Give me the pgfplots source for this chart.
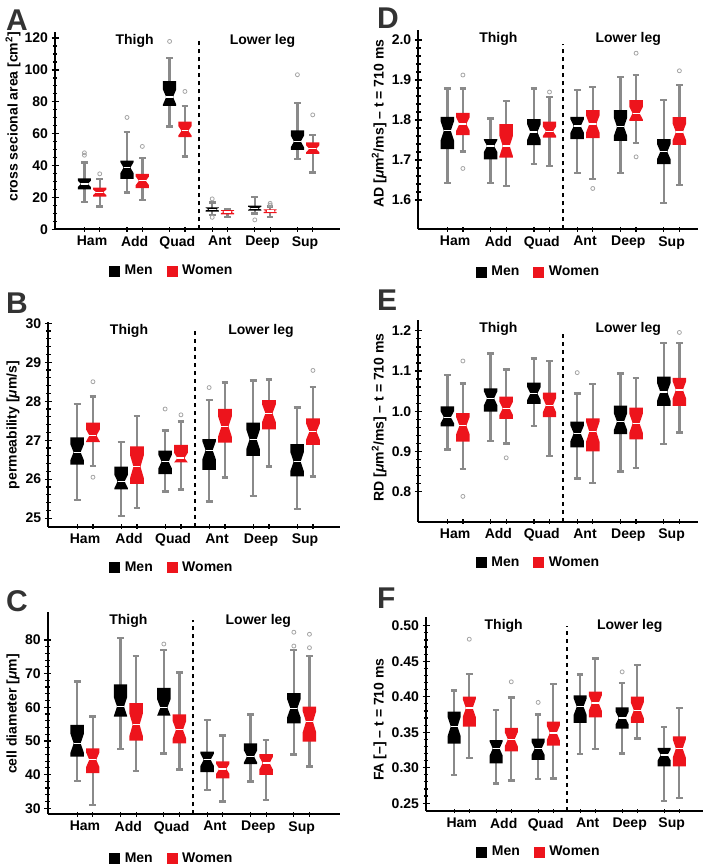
\documentclass[border=0pt]{standalone}
\usepackage{fontspec}
\setmainfont{Liberation Sans}
\usepackage{pgfplots}
\usepackage{pgfplotstable}
\pgfplotsset{compat=1.18}

\definecolor{wred}{RGB}{237,20,28}
\definecolor{whisk}{RGB}{138,138,138}
\definecolor{outc}{RGB}{165,165,165}

% geometry of one notched box (in category units)
\newcommand\bhw{0.155}   % box half width
\newcommand\nhw{0.08}    % half width at the notch waist
\newcommand\chw{0.078}   % whisker cap half width

% one notched box with whiskers, read from row #2 of table #1
\newcommand\onebox[4]{%
  \pgfplotstablegetelem{#2}{c}\of{#1}\pgfmathsetmacro\bx{\pgfplotsretval+#4}%
  \pgfplotstablegetelem{#2}{lo}\of{#1}\let\blo\pgfplotsretval
  \pgfplotstablegetelem{#2}{q1}\of{#1}\let\bqa\pgfplotsretval
  \pgfplotstablegetelem{#2}{med}\of{#1}\let\bmed\pgfplotsretval
  \pgfplotstablegetelem{#2}{q3}\of{#1}\let\bqc\pgfplotsretval
  \pgfplotstablegetelem{#2}{hi}\of{#1}\let\bhi\pgfplotsretval
  \pgfmathsetmacro\bd{0.3*(\bqc-\bqa)}%
  \pgfmathsetmacro\bnl{max(\bqa,\bmed-\bd)}%
  \pgfmathsetmacro\bnh{min(\bqc,\bmed+\bd)}%
  \pgfmathsetmacro\xl{\bx-\bhw}\pgfmathsetmacro\xr{\bx+\bhw}%
  \pgfmathsetmacro\xil{\bx-\nhw}\pgfmathsetmacro\xir{\bx+\nhw}%
  \pgfmathsetmacro\capl{\bx-\chw}\pgfmathsetmacro\capr{\bx+\chw}%
  \addplot[whisker] coordinates {(\bx,\blo) (\bx,\bhi)};
  \addplot[whisker] coordinates {(\capl,\blo) (\capr,\blo)};
  \addplot[whisker] coordinates {(\capl,\bhi) (\capr,\bhi)};
  \addplot[fill=#3, draw=none, forget plot] coordinates {(\xl,\bqa) (\xr,\bqa) (\xr,\bnl) (\xir,\bmed) (\xr,\bnh) (\xr,\bqc) (\xl,\bqc) (\xl,\bnh) (\xil,\bmed) (\xl,\bnl)} --cycle;
  \addplot[white, line width=1.3pt, forget plot] coordinates {(\xil,\bmed) (\xir,\bmed)};
}
\newcommand\boxes[3]{\pgfplotsinvokeforeach{0,...,5}{\onebox{#1}{##1}{#2}{#3}}}

\pgfplotsset{
  panel/.style={
    scale only axis, clip=false,
    axis x line*=bottom, axis y line*=left,
    axis line style={line width=1.8pt},
    xtick={0,...,5}, xticklabels={Ham,Add,Quad,Ant,Deep,Sup},
    minor xtick={-0.18,0.18,0.82,1.18,1.82,2.18,2.82,3.18,3.82,4.18,4.82,5.18},
    major x tick style={draw=none},
    minor y tick num=4,
    tick align=center,
    major tick length=7pt, minor tick length=4.5pt,
    tick style={black, line width=1.2pt},
    tick label style={font=\fontsize{14}{17}\selectfont\bfseries},
    /pgf/number format/assume math mode=true,
    ylabel style={font=\fontsize{14}{17}\selectfont\bfseries, anchor=center},
    legend style={draw=none, fill=none, font=\fontsize{14}{17}\selectfont\bfseries,
      legend columns=2, anchor=center,
      /tikz/every odd column/.append style={column sep=3pt},
      /tikz/every even column/.append style={column sep=12pt}},
    legend cell align=left,
  },
  whisker/.style={whisk, line width=2.4pt, forget plot},
  outl/.style={only marks, mark=o, mark size=2pt, outc, line width=0.8pt, forget plot},
  sep/.style={black, line width=2pt, dash pattern=on 4pt off 4pt, forget plot},
}
\newcommand\legsq{%
  \addlegendimage{legend image code/.code={\fill[black] (0pt,-5pt) rectangle (10pt,5pt);}}
  \addlegendentry{Men}
  \addlegendimage{legend image code/.code={\fill[wred] (0pt,-5pt) rectangle (10pt,5pt);}}
  \addlegendentry{Women}
}
\newcommand\regions[1]{%
  \node[font=\fontsize{14}{17}\selectfont\bfseries, anchor=north, inner sep=2pt] at (axis cs:1,#1) {Thigh};
  \node[font=\fontsize{14}{17}\selectfont\bfseries, anchor=north, inner sep=2pt] at (axis cs:4,#1) {Lower leg};
}

% columns: category, lower whisker, Q1, median, Q3, upper whisker
\pgfplotstableread{
c lo q1 med q3 hi
0 17 25 28.5 32 42
1 23 31.6 38.7 43.1 61
2 64.5 77.5 83 93 107.4
3 9 11.1 12.6 13.8 16.8
4 10 11.7 13.2 14.9 20.1
5 44 49.8 55.1 62 79.2
}\csaMen
\pgfplotstableread{
c lo q1 med q3 hi
0 14.2 20.5 23.2 26.2 31.6
1 18.4 25.8 30.4 34.8 44.6
2 45.7 57.8 61.8 67.6 77.5
3 7.8 9.4 10.9 12.1 12.8
4 7.9 10.2 11.4 12.5 14.2
5 35.6 47.3 50.5 54.5 59.3
}\csaWomen
\pgfplotstableread{
c lo q1 med q3 hi
0 25.47 26.37 26.69 27.07 27.93
1 25.06 25.74 25.94 26.32 26.95
2 25.68 26.13 26.45 26.73 27.25
3 25.43 26.24 26.74 27.03 28.03
4 25.57 26.60 27.02 27.45 28.53
5 25.23 26.07 26.45 26.90 27.84
}\permMen
\pgfplotstableread{
c lo q1 med q3 hi
0 26.33 26.95 27.12 27.45 28.12
1 25.26 25.88 26.32 26.84 27.62
2 25.73 26.43 26.54 26.88 27.48
3 26.04 26.94 27.35 27.80 28.48
4 26.32 27.28 27.69 28.03 28.56
5 26.07 26.88 27.22 27.56 28.36
}\permWomen
\pgfplotstableread{
c lo q1 med q3 hi
0 38.1 45.35 49.3 54.75 67.6
1 47.6 57.2 60.2 66.8 80.5
2 46.3 57.5 59.9 65.8 77
3 35.4 40.7 44.4 46.8 56.2
4 37.9 43.1 45.4 49.3 57.9
5 46 55.2 59.7 64.2 77
}\diamMen
\pgfplotstableread{
c lo q1 med q3 hi
0 31 40.4 44.4 47.8 57.2
1 41 50.1 54.8 61.2 75.2
2 41.5 49.3 53.3 57.9 70.3
3 32 38.9 41.7 43.9 51.6
4 32.5 39.9 43.4 46.1 50.3
5 42.4 49.8 55.7 60.2 75.2
}\diamWomen
\pgfplotstableread{
c lo q1 med q3 hi
0 1.642 1.7275 1.773 1.808 1.879
1 1.642 1.702 1.735 1.752 1.804
2 1.690 1.7375 1.770 1.802 1.879
3 1.668 1.752 1.785 1.808 1.875
4 1.667 1.748 1.783 1.825 1.908
5 1.592 1.690 1.721 1.752 1.850
}\adMen
\pgfplotstableread{
c lo q1 med q3 hi
0 1.721 1.7625 1.790 1.818 1.879
1 1.635 1.706 1.735 1.790 1.8475
2 1.685 1.756 1.772 1.796 1.858
3 1.652 1.755 1.790 1.825 1.882
4 1.742 1.798 1.817 1.850 1.9125
5 1.638 1.738 1.770 1.807 1.8875
}\adWomen
\pgfplotstableread{
c lo q1 med q3 hi
0 0.905 0.962 0.985 1.012 1.090
1 0.926 0.999 1.032 1.057 1.144
2 0.963 1.018 1.044 1.071 1.131
3 0.833 0.910 0.945 0.974 1.044
4 0.850 0.943 0.974 1.014 1.094
5 0.918 1.013 1.048 1.086 1.170
}\rdMen
\pgfplotstableread{
c lo q1 med q3 hi
0 0.856 0.924 0.964 0.995 1.069
1 0.920 0.981 1.007 1.036 1.104
2 0.888 0.985 1.015 1.046 1.125
3 0.821 0.900 0.949 0.982 1.067
4 0.858 0.930 0.970 1.009 1.082
5 0.947 1.013 1.053 1.083 1.170
}\rdWomen
\pgfplotstableread{
c lo q1 med q3 hi
0 0.290 0.334 0.358 0.379 0.4085
1 0.278 0.306 0.327 0.339 0.381
2 0.284 0.311 0.327 0.341 0.375
3 0.319 0.363 0.386 0.402 0.4315
4 0.320 0.355 0.370 0.385 0.419
5 0.253 0.302 0.318 0.328 0.357
}\faMen
\pgfplotstableread{
c lo q1 med q3 hi
0 0.314 0.358 0.384 0.400 0.432
1 0.282 0.323 0.340 0.356 0.399
2 0.285 0.331 0.349 0.365 0.418
3 0.326 0.371 0.391 0.407 0.454
4 0.341 0.363 0.381 0.400 0.445
5 0.257 0.302 0.327 0.344 0.384
}\faWomen

\begin{document}
\begin{tikzpicture}
\useasboundingbox (0pt,0pt) rectangle (709pt,864pt);

\tikzset{letter/.style={anchor=north west, inner sep=0pt, text=black!80,
  font=\fontsize{30}{30}\selectfont\bfseries}}
\node[letter] at (6pt,854pt) {A};
\node[letter] at (6pt,571pt) {B};
\node[letter] at (6pt,274pt) {C};
\node[letter] at (377pt,856pt) {D};
\node[letter] at (377pt,574pt) {E};
\node[letter] at (377pt,276pt) {F};

% ---------------- A: cross sectional area
\begin{axis}[panel, at={(55pt,634.7pt)}, anchor=south west,
  width=285pt, height=197.6pt,
  xmin=-0.87, xmax=5.82, ymin=0, ymax=124,
  ytick={0,20,...,120}, minor y tick num=3,
  ylabel={cross secional area [cm\textsuperscript{2}]},
  ylabel style={at={(axis description cs:-0.147,0.57)}},
  legend style={at={(0.41,-0.21)}}]
\legsq
\addplot[sep] coordinates {(2.5,0) (2.5,118)};
\boxes{\csaMen}{black}{-0.18}
\boxes{\csaWomen}{wred}{0.18}
\addplot[outl] table[x expr=\thisrow{c}-0.18, y=v] {
c v
0 46.5
0 48
1 70.2
2 117.9
3 19.1
3 7.5
4 5.9
5 97
};
\addplot[outl] table[x expr=\thisrow{c}+0.18, y=v] {
c v
0 34.8
1 52
2 86.5
4 15.2
4 16.3
5 71.8
};
\regions{124}
\end{axis}

% ---------------- B: permeability
\begin{axis}[panel, at={(48.3pt,337.3pt)}, anchor=south west,
  width=291.7pt, height=205pt,
  xmin=-0.835, xmax=5.795, ymin=24.78, ymax=30.04,
  ytick={25,...,30},
  ylabel={permeability [{\itshape μ}m/s]},
  ylabel style={at={(axis description cs:-0.121,0.496)}},
  legend style={at={(0.424,-0.197)}}]
\legsq
\addplot[sep] coordinates {(2.5,24.78) (2.5,29.8)};
\boxes{\permMen}{black}{-0.18}
\boxes{\permWomen}{wred}{0.18}
\addplot[outl] table[x expr=\thisrow{c}-0.18, y=v] {
c v
2 27.8
3 28.35
};
\addplot[outl] table[x expr=\thisrow{c}+0.18, y=v] {
c v
0 28.5
0 26.05
2 27.65
5 28.79
};
\regions{30.04}
\end{axis}

% ---------------- C: cell diameter
\begin{axis}[panel, at={(47.7pt,49.7pt)}, anchor=south west,
  width=292.3pt, height=202.6pt,
  xmin=-0.86, xmax=5.885, ymin=28.2, ymax=88.4,
  ytick={30,40,...,80},
  ylabel={cell diameter [{\itshape μ}m]},
  ylabel style={at={(axis description cs:-0.119,0.495)}},
  legend style={at={(0.425,-0.216)}}]
\legsq
\addplot[sep] coordinates {(2.5,28.2) (2.5,86)};
\boxes{\diamMen}{black}{-0.18}
\boxes{\diamWomen}{wred}{0.18}
\addplot[outl] table[x expr=\thisrow{c}-0.18, y=v] {
c v
2 78.8
5 82.3
5 78.2
};
\addplot[outl] table[x expr=\thisrow{c}+0.18, y=v] {
c v
5 81.7
5 77.7
};
\regions{88.4}
\end{axis}

% ---------------- D: axial diffusivity
\begin{axis}[panel, at={(418.3pt,634.7pt)}, anchor=south west,
  width=279.7pt, height=199.3pt,
  xmin=-0.85, xmax=5.61, ymin=1.527, ymax=2.025,
  ytick={1.6,1.7,1.8,1.9,2.0},
  yticklabel style={/pgf/number format/.cd, fixed, fixed zerofill, precision=1},
  ylabel={AD [{\itshape μ}m\textsuperscript{2}/ms] – t = 710 ms},
  ylabel style={at={(axis description cs:-0.14,0.53)}},
  legend style={at={(0.43,-0.213)}}]
\legsq
\addplot[sep] coordinates {(2.5,1.527) (2.5,1.99)};
\boxes{\adMen}{black}{-0.18}
\boxes{\adWomen}{wred}{0.18}
\addplot[outl] table[x expr=\thisrow{c}+0.18, y=v] {
c v
0 1.9125
0 1.679
2 1.87
3 1.629
4 1.967
4 1.708
5 1.923
};
\regions{2.025}
\end{axis}

% ---------------- E: radial diffusivity
\begin{axis}[panel, at={(418.3pt,342.3pt)}, anchor=south west,
  width=279.7pt, height=201.7pt,
  xmin=-0.85, xmax=5.61, ymin=0.725, ymax=1.227,
  ytick={0.8,0.9,1.0,1.1,1.2},
  yticklabel style={/pgf/number format/.cd, fixed, fixed zerofill, precision=1},
  ylabel={RD [{\itshape μ}m\textsuperscript{2}/ms] – t = 710 ms},
  ylabel style={at={(axis description cs:-0.14,0.517)}},
  legend style={at={(0.43,-0.203)}}]
\legsq
\addplot[sep] coordinates {(2.5,0.725) (2.5,1.2)};
\boxes{\rdMen}{black}{-0.18}
\boxes{\rdWomen}{wred}{0.18}
\addplot[outl] table[x expr=\thisrow{c}-0.18, y=v] {
c v
3 1.096
};
\addplot[outl] table[x expr=\thisrow{c}+0.18, y=v] {
c v
0 1.125
0 0.788
1 0.884
5 1.196
};
\regions{1.227}
\end{axis}

% ---------------- F: fractional anisotropy
\begin{axis}[panel, at={(426pt,53pt)}, anchor=south west,
  width=277pt, height=194.3pt,
  xmin=-0.85, xmax=5.745, ymin=0.239, ymax=0.5127,
  ytick={0.25,0.30,...,0.50},
  yticklabel style={/pgf/number format/.cd, fixed, fixed zerofill, precision=2},
  ylabel={FA [–] – t = 710 ms},
  ylabel style={at={(axis description cs:-0.166,0.47)}},
  legend style={at={(0.408,-0.21)}}]
\legsq
\addplot[sep] coordinates {(2.5,0.239) (2.5,0.50)};
\boxes{\faMen}{black}{-0.18}
\boxes{\faWomen}{wred}{0.18}
\addplot[outl] table[x expr=\thisrow{c}-0.18, y=v] {
c v
2 0.392
4 0.435
};
\addplot[outl] table[x expr=\thisrow{c}+0.18, y=v] {
c v
0 0.481
1 0.421
};
\regions{0.5127}
\end{axis}
\end{tikzpicture}
\end{document}
